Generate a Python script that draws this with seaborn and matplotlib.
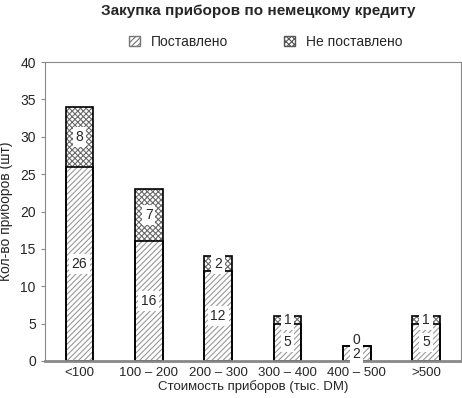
import pandas as pd
import matplotlib
matplotlib.use("Agg")
import matplotlib.pyplot as plt
import seaborn as sns
from matplotlib.patches import Patch

# данные
categories = ["<100", "100 – 200", "200 – 300", "300 – 400", "400 – 500", ">500"]
delivered = [26, 16, 12, 5, 2, 5]
not_delivered = [8, 7, 2, 1, 0, 1]

df = pd.DataFrame({"cat": categories, "done": delivered, "left": not_delivered})
df["total"] = df["done"] + df["left"]

sns.set_style("ticks")
plt.rcParams["font.family"] = ["Liberation Sans", "DejaVu Sans"]
plt.rcParams["hatch.linewidth"] = 0.8

fig = plt.figure(figsize=(4.62, 3.98), dpi=100)
ax = fig.add_axes([0.097, 0.093, 0.900, 0.751])

# всего (не поставлено сверху)
sns.barplot(data=df, x="cat", y="total", color="white", width=0.4,
            edgecolor="#6a6a6a", hatch="xxxxxx", linewidth=0, ax=ax)
# поставлено
sns.barplot(data=df, x="cat", y="done", color="white", width=0.4,
            edgecolor="#999999", hatch="//////", linewidth=0, ax=ax)
# контуры
sns.barplot(data=df, x="cat", y="total", fill=False, width=0.4,
            edgecolor="black", linewidth=1.2, ax=ax)
sns.barplot(data=df, x="cat", y="done", fill=False, width=0.4,
            edgecolor="black", linewidth=1.2, ax=ax)

box = dict(boxstyle="square,pad=0.2", fc="white", ec="none")
for i, (d, n) in enumerate(zip(delivered, not_delivered)):
    ax.text(i, d / 2, str(d), ha="center", va="center", fontsize=10, bbox=box)
    if n > 0:
        ax.text(i, d + n / 2, str(n), ha="center", va="center", fontsize=10, bbox=box)
    else:
        ax.text(i, d + 0.8, str(n), ha="center", va="center", fontsize=10)

ax.set_ylim(0, 40)
ax.set_xlim(-0.5, 5.5)
ax.set_yticks(range(0, 41, 5))
ax.tick_params(axis="y", length=3, labelsize=10, color="#888888")
ax.tick_params(axis="x", length=0, labelsize=9.5, pad=4)
for s in ax.spines.values():
    s.set_color("#888888")
    s.set_linewidth(0.8)
ax.spines["bottom"].set_linewidth(2)

ax.set_xlabel("Стоимость приборов (тыс. DM)", fontsize=9.5, labelpad=1)
ax.set_ylabel("Кол-во приборов (шт)", fontsize=10, labelpad=5)
fig.suptitle("Закупка приборов по немецкому кредиту", fontsize=11,
             fontweight="bold", x=0.56, y=0.99)

handles = [Patch(facecolor="white", edgecolor="#777777", hatch="//////"),
           Patch(facecolor="white", edgecolor="#555555", hatch="xxxxxx")]
fig.legend(handles, ["Поставлено", "Не поставлено"], loc="center",
           bbox_to_anchor=(0.575, 0.895), ncol=2, frameon=False, fontsize=10,
           handlelength=0.8, handleheight=0.8, columnspacing=4.0)

fig.savefig("out.png", dpi=100)
